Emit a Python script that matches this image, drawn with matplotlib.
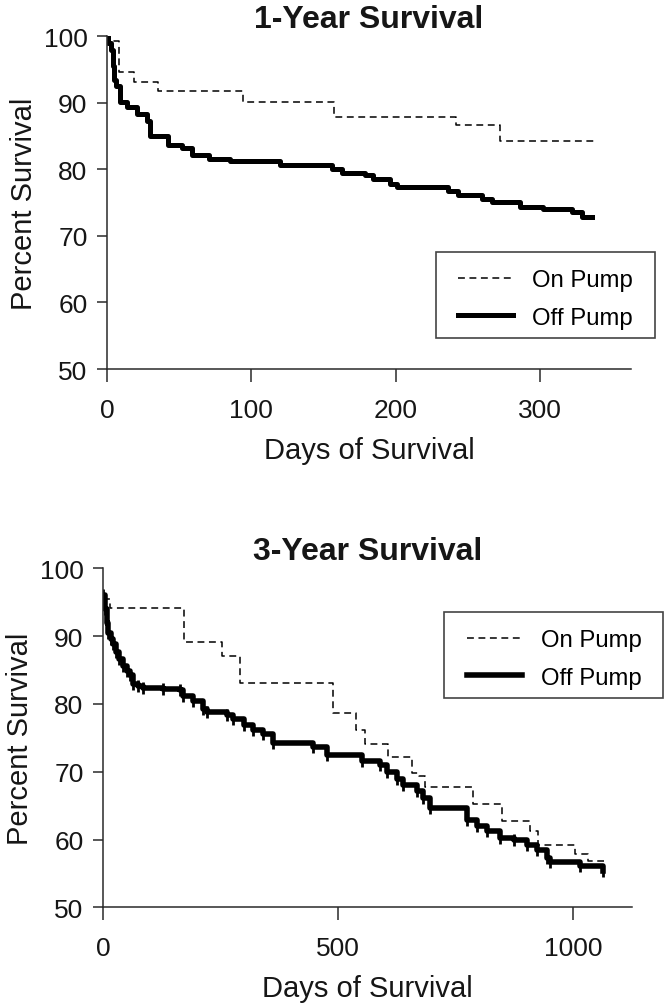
import numpy as np
import matplotlib
matplotlib.use("Agg")
import matplotlib.pyplot as plt
from matplotlib.patches import Rectangle

plt.rcParams['font.family'] = ['Liberation Sans', 'DejaVu Sans']

# 1-year survival (days, percent) - step points
on1_days = [0, 1, 8, 19, 35, 94, 157, 242, 272, 338]
on1_pct = [100, 99.3, 94.6, 93.1, 91.8, 90.2, 87.9, 86.6, 84.3, 84.3]

off1_days = [0, 1, 3, 4, 5, 6, 9, 14, 21, 28, 30, 42, 52, 59, 71, 85, 120, 156, 163,
             179, 184, 196, 201, 236, 243, 260, 267, 286, 302, 322, 329, 336]
off1_pct = [100, 99, 97.9, 95.5, 93.5, 92.5, 90.2, 89.3, 88.3, 87.3, 85.0, 83.7, 83.2, 82.2,
            81.6, 81.2, 80.7, 80.0, 79.5, 79.2, 78.6, 77.8, 77.3, 76.8, 76.1, 75.6, 75.1,
            74.4, 74.1, 73.6, 72.8, 72.8]

# 3-year survival
on3_days = [0, 15, 172, 253, 291, 489, 538, 557, 606, 657, 672, 685, 787, 849, 909, 926,
            1004, 1032, 1065]
on3_pct = [95.4, 94.2, 89.2, 87.0, 83.1, 78.6, 76.2, 74.1, 72.1, 69.8, 69.3, 67.7, 65.3,
           62.8, 61.2, 59.2, 57.8, 56.9, 56.9]

off3_days = [0, 4, 8, 11, 16, 22, 28, 33, 43, 50, 57, 64, 75, 86, 128, 164, 170, 191, 213,
             221, 263, 277, 299, 320, 341, 362, 447, 476, 550, 589, 605, 625, 639, 667, 681,
             696, 774, 795, 816, 845, 873, 901, 923, 944, 951, 1015, 1064]
off3_pct = [96, 94, 92, 90.4, 89.6, 88.9, 87.6, 86.6, 85.6, 84.9, 84.2, 83.0, 82.6, 82.3,
            82.2, 82.0, 81.1, 80.4, 79.3, 78.8, 78.3, 77.7, 76.9, 76.1, 75.5, 74.2, 73.6,
            72.4, 71.6, 71.0, 69.9, 68.9, 68.1, 67.1, 66.1, 64.6, 62.9, 62.0, 61.2, 60.2,
            60.0, 59.2, 58.5, 57.3, 56.7, 56.1, 55.3]

yticks = [50, 60, 70, 80, 90, 100]

W, H = 664, 1004
fig = plt.figure(figsize=(W/100, H/100), dpi=100)
ax1 = fig.add_axes([107/W, 1-370/H, 524/W, 332.7/H])
ax2 = fig.add_axes([103/W, 1-908.3/H, 529/W, 339/H])

txt = '#161616'
spine_c = '#2a2a2a'


def style(ax, xmax, xticks, title, box, leg_xy):
    ax.set_xlim(0, xmax)
    ax.set_ylim(50, 100)
    ax.set_xticks(xticks)
    ax.set_yticks(yticks)
    for s in ['top', 'right']:
        ax.spines[s].set_visible(False)
    for s in ['left', 'bottom']:
        ax.spines[s].set_color(spine_c)
        ax.spines[s].set_linewidth(1.1)
    ax.tick_params(axis='x', direction='out', length=9, width=1.1, pad=12,
                   labelsize=19, colors=spine_c, labelcolor=txt)
    ax.tick_params(axis='y', direction='out', length=7, width=1.1, pad=7,
                   labelsize=19, colors=spine_c, labelcolor=txt)
    ax.set_xlabel('Days of Survival', fontsize=21, color=txt, labelpad=10)
    ax.set_ylabel('Percent Survival', fontsize=21, color=txt, labelpad=4)
    ax.set_title(title, fontsize=23, fontweight='bold', color=txt, pad=7)
    ax.legend(loc='upper left', bbox_to_anchor=(leg_xy[0]/W, 1-leg_xy[1]/H),
              bbox_transform=fig.transFigure, borderaxespad=0, borderpad=0,
              fontsize=17.2, frameon=False, handlelength=2.3, handletextpad=0.8,
              labelspacing=0.65)
    x0, y0, x1, y1 = box
    fig.patches.append(Rectangle((x0/W, 1-y1/H), (x1-x0)/W, (y1-y0)/H,
                                 transform=fig.transFigure, fill=False,
                                 edgecolor='#444444', linewidth=1.2))


ax1.plot(on1_days, on1_pct, drawstyle='steps-post', color='black', lw=1.1,
         linestyle=(0, (4.5, 3)), label='On Pump')
ax1.plot(off1_days, off1_pct, drawstyle='steps-post', color='black', lw=3.6,
         label='Off Pump')
style(ax1, 363, [0, 100, 200, 300], '1-Year Survival', (436, 253, 655, 339), (458, 270))

ax2.plot(on3_days, on3_pct, drawstyle='steps-post', color='black', lw=1.1,
         linestyle=(0, (4.5, 3)), label='On Pump')
ax2.plot(off3_days, off3_pct, drawstyle='steps-post', color='black', lw=4,
         marker='|', markersize=9, markeredgewidth=2, label='Off Pump')
style(ax2, 1125, [0, 500, 1000], '3-Year Survival', (444, 613, 663, 699), (467, 630))

# legend handle for off pump should stay a plain line
for ln in ax2.get_legend().get_lines():
    ln.set_marker('None')

fig.savefig('out.png', dpi=100)
